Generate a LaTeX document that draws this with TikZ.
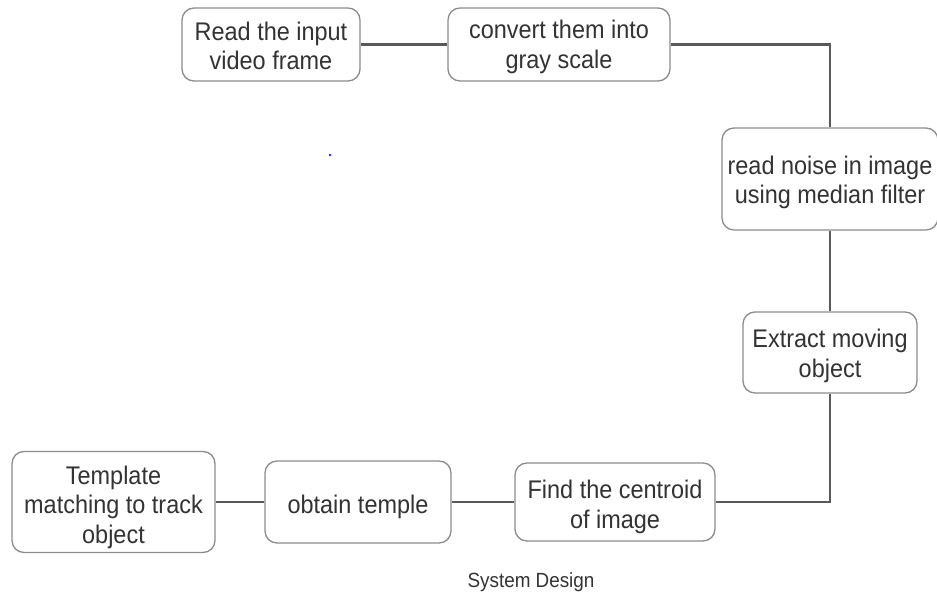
\documentclass[tikz,border=0pt]{standalone}
\usepackage{fontspec}
\setmainfont{Liberation Sans}
\newfontfamily\boxfont[FakeStretch=0.92]{Liberation Sans}
\begin{document}
\begin{tikzpicture}[x=1pt,y=-1pt,
  stepbox/.style={draw=black!45, line width=1.3pt, rounded corners=12pt, fill=white, inner sep=0pt},
  steptext/.style={align=center, text=black!80, inner sep=0pt,
    font=\boxfont\fontsize{25.5}{29.5}\selectfont},
  link/.style={draw=black!65, line width=2.4pt}]
  \useasboundingbox (0,0) rectangle (937,604);

  % process step frames
  \node[stepbox, minimum width=178pt, minimum height=73pt] (b1) at (271,44.5) {};
  \node[stepbox, minimum width=222pt, minimum height=73pt] (b2) at (559,44.5) {};
  \node[stepbox, minimum width=216pt, minimum height=102pt] (b3) at (830,179) {};
  \node[stepbox, minimum width=174pt, minimum height=81pt] (b4) at (830,352.5) {};
  \node[stepbox, minimum width=200pt, minimum height=78pt] (b5) at (615,502) {};
  \node[stepbox, minimum width=186pt, minimum height=82pt] (b6) at (358,502) {};
  \node[stepbox, minimum width=203pt, minimum height=101pt] (b7) at (113.5,502) {};

  % step texts
  \node[steptext] (t1) at ([yshift=-1.5pt]b1.center) {Read the input\\video frame};
  \node[steptext] (t2) at ([yshift=-2.5pt]b2.center) {convert them into\\gray scale};
  \node[steptext] (t3) at ([yshift=-3.5pt]b3.center) {read noise in image\\using median filter};
  \node[steptext] (t4) at ([yshift=-3.5pt]b4.center) {Extract moving\\object};
  \node[steptext] (t5) at ([yshift=-5pt]b5.center) {Find the centroid\\of image};
  \node[steptext] (t6) at ([yshift=-5pt]b6.center) {obtain temple};
  \node[steptext] (t7) at ([yshift=-5pt]b7.center) {Template\\matching to track\\object};

  % connectors
  \draw[link] (b1.east) -- (b2.west);
  \draw[link] (b2.east) -| (b3.north);
  \draw[link] (b3.south) -- (b4.north);
  \draw[link] (b4.south) |- (b5.east);
  \draw[link] (b5.west) -- (b6.east);
  \draw[link] (b6.west) -- (b7.east);

  % stray mark
  \fill[blue!85] (330,155) circle (1.3pt);

  % caption
  \node[text=black!80, font=\boxfont\fontsize{20.5}{24}\selectfont] (cap) at (531,582) {System Design};
\end{tikzpicture}
\end{document}
